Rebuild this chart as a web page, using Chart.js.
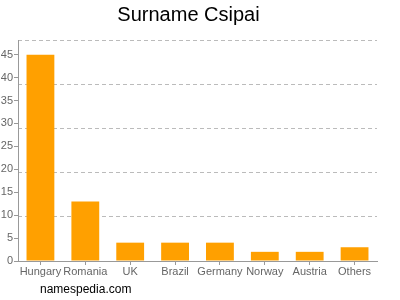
<!DOCTYPE html>
<html>
<head>
<meta charset="utf-8">
<script src="https://cdn.jsdelivr.net/npm/chart.js@4"></script>
<style>
  html, body { margin: 0; padding: 0; background: #fff; }
  #wrap { position: relative; width: 400px; height: 300px; }
  #site { position: absolute; left: 40px; top: 282px; font: 12px "Liberation Sans", Arial, sans-serif; color: #000; }
</style>
</head>
<body>
<div id="wrap">
  <canvas id="chart" width="400" height="300"></canvas>
  <div id="site">namespedia.com</div>
</div>
<script>
// данные
const countries = ['Hungary', 'Romania', 'UK', 'Brazil', 'Germany', 'Norway', 'Austria', 'Others'];
const counts = [45, 13, 4, 4, 4, 2, 2, 3];
const yTicks = [0, 5, 10, 15, 20, 25, 30, 35, 40, 45];
const yMax = 48.2;

const font = "'Liberation Sans', Arial, sans-serif";

new Chart(document.getElementById('chart'), {
    type: 'bar',
    data: {
        labels: countries,
        datasets: [{
            data: counts,
            backgroundColor: '#ffa000',
            categoryPercentage: 1,
            barPercentage: 0.62,
            yAxisID: 'y'
        }]
    },
    options: {
        responsive: false,
        animation: false,
        layout: { padding: { left: 0, right: 23, top: 0, bottom: 0 } },
        plugins: {
            legend: { display: false },
            tooltip: { enabled: false },
            title: {
                display: true,
                text: 'Surname Csipai',
                color: '#000',
                font: { family: font, size: 20, weight: 'normal', lineHeight: 1.2 },
                padding: { top: 3, bottom: 13 }
            }
        },
        scales: {
            x: {
                offset: true,
                grid: { drawOnChartArea: false, offset: false, tickLength: 4, color: '#999' },
                border: { color: '#999' },
                ticks: { color: '#666', font: { family: font, size: 11 }, padding: 0, maxRotation: 0, autoSkip: false },
                afterFit: function(axis) { axis.height = 39; }
            },
            y: {
                min: 0,
                max: yMax,
                grid: { drawOnChartArea: false, tickLength: 4, color: '#999' },
                border: { color: '#999' },
                ticks: { color: '#666', font: { family: font, size: 11 }, padding: 1 },
                afterBuildTicks: function(axis) {
                    axis.ticks = yTicks.map(v => ({ value: v }));
                },
                afterFit: function(axis) { axis.width = 18; }
            },
            // пунктирная сетка (5 равных делений)
            y2: {
                position: 'left',
                min: 0,
                max: yMax,
                ticks: { display: false, count: 6 },
                grid: { color: '#bbb', drawTicks: false },
                border: { display: false, dash: [4, 3] },
                afterFit: function(axis) { axis.width = 0; }
            }
        }
    }
});
</script>
</body>
</html>
